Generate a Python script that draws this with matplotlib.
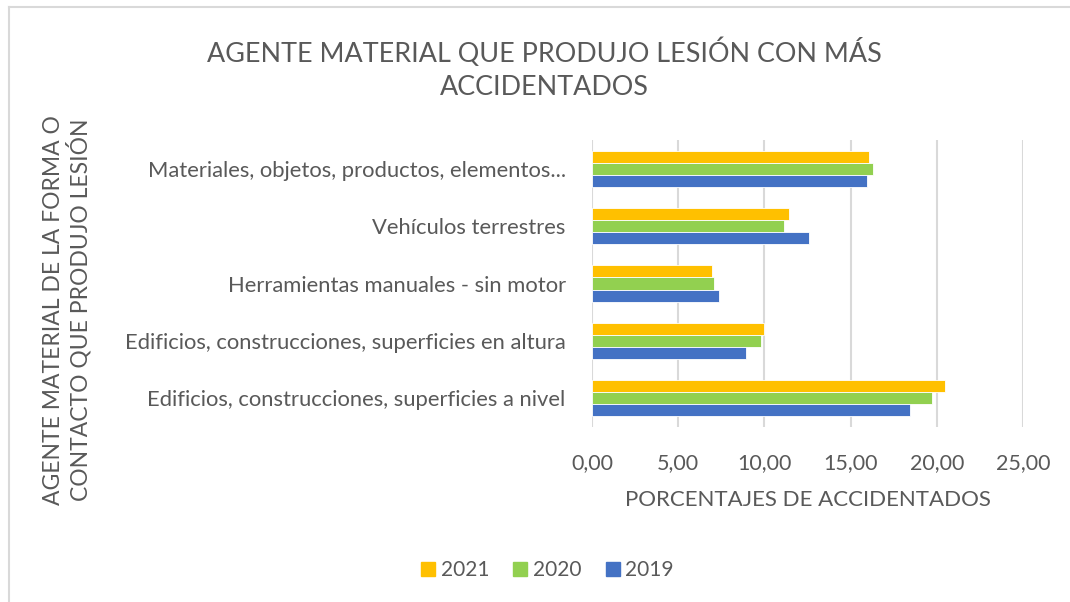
import matplotlib.pyplot as plt
import numpy as np
from matplotlib.lines import Line2D

plt.rcParams["font.family"] = ["Lato", "DejaVu Sans"]

categories = [
    "Edificios, construcciones, superficies a nivel",
    "Edificios, construcciones, superficies en altura",
    "Herramientas manuales - sin motor",
    "Vehículos terrestres",
    "Materiales, objetos, productos, elementos...",
]
years = ["2021", "2020", "2019"]
v2021 = [20.48, 9.99, 6.93, 11.40, 16.08]
v2020 = [19.74, 9.83, 7.08, 11.11, 16.32]
v2019 = [18.46, 8.94, 7.39, 12.60, 15.93]
colors = ["#ffc000", "#92d050", "#4472c4"]
xticks = [0, 5, 10, 15, 20, 25]

text_color = "#595959"
grid_color = "#d9d9d9"

fig = plt.figure(figsize=(10.7, 6.02), dpi=100)
ax = fig.add_axes([0.5533, 0.2907, 0.4028, 0.4767])

y = np.arange(len(categories))
h = 0.21
for vals, off, c, lab in zip([v2021, v2020, v2019], [h, 0, -h], colors, years):
    ax.barh(y + off, vals, height=h, color=c, label=lab, zorder=3,
            edgecolor="white", linewidth=0.6)

ax.set_xlim(0, 25)
ax.set_ylim(-0.5, len(categories) - 0.5)
ax.set_xticks(xticks)
ax.set_xticklabels([f"{t:.2f}".replace(".", ",") for t in xticks])
ax.set_yticks(y)
ax.set_yticklabels(categories)
ax.grid(axis="x", color=grid_color, linewidth=1.5, zorder=0)
for s in ax.spines.values():
    s.set_visible(False)
ax.tick_params(axis="both", length=0, colors=text_color)
ax.tick_params(axis="x", pad=19, labelsize=15.5)
ax.tick_params(axis="y", pad=19, labelsize=15.8)

ax.set_xlabel("PORCENTAJES DE ACCIDENTADOS", color=text_color, fontsize=16, labelpad=12)

fig.text(0.063, 0.485, "AGENTE MATERIAL DE LA FORMA O\nCONTACTO QUE PRODUJO LESIÓN",
         rotation=90, ha="center", va="center", color=text_color, fontsize=16.5,
         linespacing=1.1, multialignment="center")

fig.text(0.509, 0.885, "AGENTE MATERIAL QUE PRODUJO LESIÓN CON MÁS\nACCIDENTADOS",
         ha="center", va="center", color=text_color, fontsize=19.4,
         linespacing=1.4, multialignment="center")

handles = [Line2D([], [], marker="s", linestyle="none", markersize=10,
                  markerfacecolor=c, markeredgecolor=c) for c in colors]
fig.legend(handles, years, loc="center", bbox_to_anchor=(0.51, 0.053), ncol=3,
           frameon=False, fontsize=15, labelcolor=text_color,
           handletextpad=0.1, columnspacing=1.0, handlelength=1.0)

# chart border (left and top edge visible)
fig.add_artist(Line2D([9 / 1070, 9 / 1070], [0, 1 - 7 / 602], transform=fig.transFigure,
                      color=grid_color, linewidth=1.5))
fig.add_artist(Line2D([9 / 1070, 1], [1 - 7 / 602, 1 - 7 / 602], transform=fig.transFigure,
                      color=grid_color, linewidth=1.5))

fig.savefig("out.png", dpi=100)
